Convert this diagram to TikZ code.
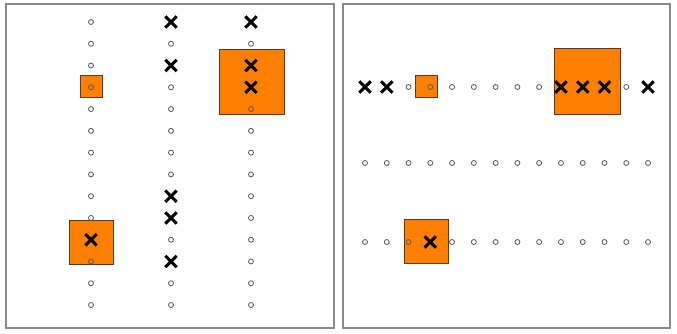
\documentclass[tikz,border=0pt]{standalone}
\usepackage{tikz}
\usetikzlibrary{positioning,shapes.misc}
\definecolor{boxorange}{HTML}{FF8000}
\definecolor{boxedge}{HTML}{5A3A1A}
\definecolor{framegray}{HTML}{8A8A8A}
\definecolor{dotgray}{HTML}{5A5A5A}
\tikzset{
  panel/.style={draw=framegray, line width=1.1pt},
  slot/.style={
    circle,
    draw=dotgray,
    line width=0.7pt,
    minimum size=0.15cm,
    inner sep=0pt
  },
  hit/.style={
    cross out,
    draw=black,
    line width=2.6pt,
    minimum size=0.25cm,
    inner sep=0pt
  },
  window/.style={
    rectangle,
    draw=boxedge,
    fill=boxorange,
    line width=0.7pt,
    inner sep=0pt
  }
}

\begin{document}
\begin{tikzpicture}[x=0.03cm, y=-0.03cm]
  \useasboundingbox (0,0) rectangle (677,333);

  % frames
  \draw[panel] (6,4) rectangle (334,328);
  \draw[panel] (343,4) rectangle (670,328);

  % left panel: windows
  \node[window, minimum size=0.66cm] (lwinsmall) at (91,86) {};
  \node[window, minimum size=1.32cm] (lwinlow) at (91,242) {};
  \node[window, minimum size=1.95cm] (lwinbig) at (251.5,82) {};

  % left panel: columns of slots
  \foreach \c/\r in {1/1,1/2,1/3,1/4,1/5,1/6,1/7,1/8,1/9,1/10,1/12,1/13,1/14,
                     2/2,2/4,2/5,2/6,2/7,2/8,2/11,2/13,2/14,
                     3/2,3/5,3/6,3/7,3/8,3/9,3/10,3/11,3/12,3/13,3/14}
    \node[slot] (ls-\c-\r) at ({91+80*(\c-1)},{22+21.77*(\r-1)}) {};
  \foreach \c/\r in {1/11,2/1,2/3,2/9,2/10,2/12,3/1,3/3,3/4}
    \node[hit] (lh-\c-\r) at ({91+80*(\c-1)},{22+21.77*(\r-1)}) {};

  % right panel: windows
  \node[window, minimum size=0.66cm] (rwinsmall) at (426,86) {};
  \node[window, minimum size=1.98cm] (rwinbig) at (587,81) {};
  \node[window, minimum size=1.32cm] (rwinlow) at (426,241.5) {};

  % right panel: rows of slots
  \foreach \c/\r in {3/1,4/1,5/1,6/1,7/1,8/1,9/1,13/1,
                     1/3,2/3,3/3,5/3,6/3,7/3,8/3,9/3,10/3,11/3,12/3,13/3,14/3}
    \node[slot] (rs-\c-\r) at ({365+21.77*(\c-1)},{87+77.5*(\r-1)}) {};
  \foreach \c in {1,...,14}
    \node[slot] (rs-\c-2) at ({365+21.77*(\c-1)},163) {};
  \foreach \c/\r in {1/1,2/1,10/1,11/1,12/1,14/1,4/3}
    \node[hit] (rh-\c-\r) at ({365+21.77*(\c-1)},{87+77.5*(\r-1)}) {};
\end{tikzpicture}
\end{document}
